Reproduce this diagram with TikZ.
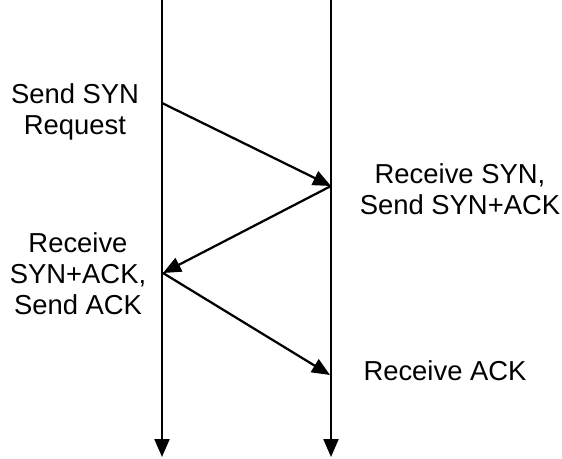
\documentclass[tikz,border=0pt]{standalone}
\usepackage{fontspec}
\setmainfont{Liberation Sans}
\usetikzlibrary{arrows.meta}
\tikzstyle{tsText} = [
    text=black,
    font=\fontsize{15.6}{17.8}\selectfont,
    align=center,
    inner sep=0pt,
    anchor=north
]
\tikzstyle{tsArrow} = [
    draw=black,
    line width=0.045cm,
    -{Triangle[length=0.36cm, width=0.3cm]}
]

\begin{document}
\begin{tikzpicture}[x=0.02cm, y=-0.02cm]
        \useasboundingbox (0,0) rectangle (562,458);

        % time lines
        \coordinate (clientTop) at (162,0);
        \coordinate (clientEnd) at (162,457);
        \coordinate (serverTop) at (331,0);
        \coordinate (serverEnd) at (331,457);

        \draw[tsArrow] (clientTop) -- (clientEnd);
        \draw[tsArrow] (serverTop) -- (serverEnd);

        % handshake points
        \coordinate (synSent) at (162,103);
        \coordinate (synRecv) at (331,186);
        \coordinate (synackRecv) at (163,273);
        \coordinate (ackRecv) at (330,375);

        \draw[tsArrow] (synSent) -- (synRecv);
        \draw[tsArrow] (synRecv) -- (synackRecv);
        \draw[tsArrow] (synackRecv) -- (ackRecv);

        % labels
        \node[tsText] (synText) at (75,83) {Send SYN\\Request};
        \node[tsText] (synackText) at (460,163) {Receive SYN,\\Send SYN+ACK};
        \node[tsText] (ackText) at (78,232) {Receive\\SYN+ACK,\\Send ACK};
        \node[tsText] (recvText) at (445,360) {Receive ACK};

\end{tikzpicture}
\end{document}
